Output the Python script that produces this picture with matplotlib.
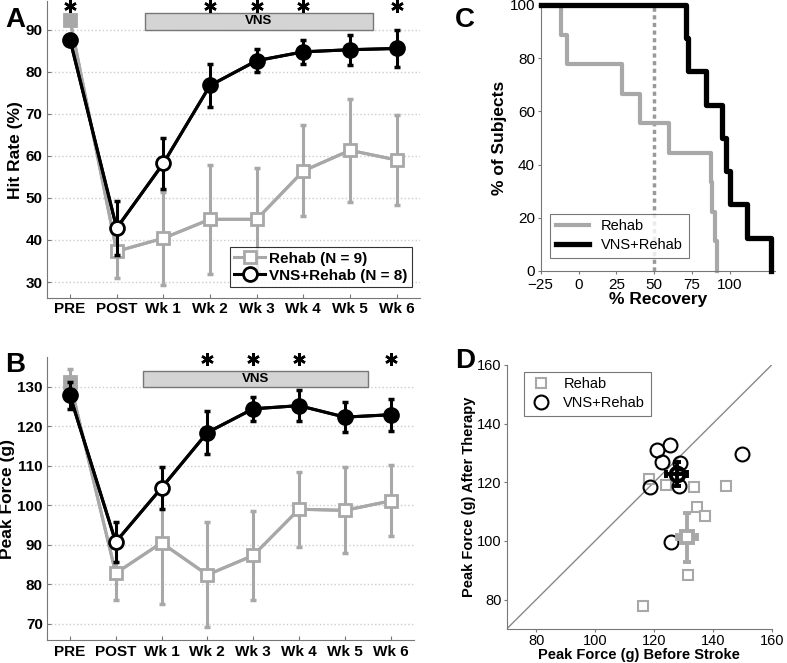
import numpy as np
import matplotlib
matplotlib.use('Agg')
import matplotlib.pyplot as plt

plt.rcParams['font.family'] = ['Liberation Sans', 'DejaVu Sans']

#### data
timepoints = ['PRE', 'POST', 'Wk 1', 'Wk 2', 'Wk 3', 'Wk 4', 'Wk 5', 'Wk 6']

## panel A - hit rate (%)
hit_rehab = [92.3, 37.3, 40.4, 44.9, 44.9, 56.4, 61.3, 59.0]
hit_rehab_err = [0.8, 6.3, 11.1, 13.0, 12.3, 10.8, 12.3, 10.8]
hit_vns = [87.6, 42.8, 58.2, 76.7, 82.6, 84.7, 85.2, 85.5]
hit_vns_err = [0.8, 6.4, 6.1, 5.1, 2.8, 2.8, 3.6, 4.3]
hit_signif = [1, 4, 5, 6, 8]

## panel B - peak force (g)
force_rehab = [131.2, 82.8, 90.5, 82.4, 87.3, 99.0, 98.7, 101.1]
force_rehab_err = [3.3, 6.7, 15.5, 13.3, 11.3, 9.5, 10.9, 9.0]
force_vns = [127.8, 90.7, 104.4, 118.4, 124.4, 125.2, 122.3, 122.9]
force_vns_err = [3.4, 5.0, 5.4, 5.4, 3.1, 3.9, 3.8, 4.1]
force_signif = [4, 5, 6, 8]

## panel C - % recovery per subject (sorted)
recovery_rehab = [-11.8, -7.8, 28.5, 40.6, 59.7, 87.2, 88.3, 90.1, 91.6]
recovery_vns = [70.7, 72.5, 84.2, 94.5, 97.4, 100.0, 111.0, 127.1]

## panel D - peak force before stroke vs after therapy
before_rehab = [118.4, 124.0, 133.6, 144.5, 134.5, 137.5, 131.5, 116.3]
after_rehab = [121.3, 119.1, 118.4, 118.8, 111.5, 108.6, 88.5, 77.7]
before_vns = [120.9, 125.6, 122.8, 129.0, 118.8, 128.6, 125.8, 150.0]
after_vns = [131.1, 132.7, 126.8, 126.5, 118.4, 118.6, 99.7, 129.7]
mean_rehab = (131.1, 101.3)
mean_rehab_err = (3.4, 8.4)
mean_vns = (127.7, 122.9)
mean_vns_err = (3.5, 4.1)

GRAY = '#a8a8a8'
x = np.arange(1, len(timepoints) + 1)


#### FUNCTION: one time-course panel (A or B)
def timeCourse(ax, rehab, rehab_err, vns, vns_err, signif, ylim, yticks,
               ylabel, bar_y, star_y):
  ax.errorbar(x, rehab, yerr=rehab_err, color=GRAY, lw=2.2, capsize=2.5,
              capthick=2.5, elinewidth=2.2, zorder=2)
  ax.plot(x, rehab, color=GRAY, lw=2.2, marker='s', ms=8.5, mfc='white',
          mec=GRAY, mew=2, zorder=3, label='Rehab (N = 9)')
  ax.plot(x[:1], rehab[:1], ls='none', marker='s', ms=8.5, mfc=GRAY, mec=GRAY,
          zorder=3)

  ax.errorbar(x, vns, yerr=vns_err, color='black', lw=2.2, capsize=2.5,
              capthick=2.5, elinewidth=2.2, zorder=4)
  ax.plot(x, vns, color='black', lw=2.2, marker='o', ms=10, mfc='white',
          mec='black', mew=2, zorder=5, label='VNS+Rehab (N = 8)')
  filled = [i for i in range(len(x)) if i not in (1, 2)]
  ax.plot(x[filled], np.array(vns)[filled], ls='none', marker='o', ms=10,
          mfc='black', mec='black', zorder=5)

  ## significance asterisks
  ax.plot(signif, [star_y] * len(signif), ls='none', marker=(6, 2, 0), ms=9,
          mew=1.8, color='black', clip_on=False, zorder=6)

  ## VNS bar
  ax.fill_between([2.6, 7.5], bar_y[0], bar_y[1], facecolor='#d4d4d4',
                  edgecolor='#777777', lw=1, zorder=1)
  ax.text(5.05, (bar_y[0] + bar_y[1]) / 2, 'VNS', ha='center', va='center',
          fontsize=9.5, fontweight='bold')

  ax.set_xlim(0.5, 8.5)
  ax.set_ylim(*ylim)
  ax.set_yticks(yticks)
  ax.set_xticks(x)
  ax.set_xticklabels(timepoints)
  for lab in ax.get_xticklabels() + ax.get_yticklabels():
    lab.set_fontweight('bold')
    lab.set_fontsize(11)
  ax.yaxis.grid(True, ls=':', color='#cccccc', lw=1)
  ax.set_axisbelow(True)
  for s in ['top', 'right']:
    ax.spines[s].set_visible(False)
  for s in ['left', 'bottom']:
    ax.spines[s].set_color('#777777')
  ax.tick_params(direction='in', length=3, color='#777777', pad=3)
  ax.set_ylabel(ylabel, fontsize=12.5, fontweight='bold', labelpad=2)


fig = plt.figure(figsize=(7.87, 6.63), dpi=100)

## A
axA = fig.add_axes([0.0593, 0.5505, 0.4744, 0.4475])
timeCourse(axA, hit_rehab, hit_rehab_err, hit_vns, hit_vns_err, hit_signif,
           (26.2, 96.7), range(30, 91, 10), 'Hit Rate (%)', (90, 94), 95.6)
legA = axA.legend(loc='lower right', bbox_to_anchor=(1.0, 0.01), frameon=True,
                  fancybox=False, edgecolor='black', handlelength=2.0,
                  borderpad=0.3, labelspacing=0.2, handletextpad=0.3,
                  prop={'weight': 'bold', 'size': 11})
legA.get_frame().set_linewidth(0.8)

## B
axB = fig.add_axes([0.0597, 0.034, 0.4658, 0.4275])
timeCourse(axB, force_rehab, force_rehab_err, force_vns, force_vns_err,
           force_signif, (65.8, 137.5), range(70, 131, 10), 'Peak Force (g)',
           (130, 133.9), 136.9)

## C
axC = fig.add_axes([0.687, 0.5913, 0.2982, 0.4012])
y_rehab = [100 * (1 - i / len(recovery_rehab)) for i in range(len(recovery_rehab) + 1)]
y_vns = [100 * (1 - i / len(recovery_vns)) for i in range(len(recovery_vns) + 1)]
axC.axvline(50, color='#999999', ls=(0, (1.2, 1.0)), lw=2.5, zorder=1)
axC.step([-25] + recovery_rehab, y_rehab, where='post', color=GRAY, lw=3,
         label='Rehab', zorder=2, clip_on=False)
axC.step([-25] + recovery_vns, y_vns, where='post', color='black', lw=3.8,
         label='VNS+Rehab', zorder=3, clip_on=False)
axC.set_xlim(-25, 130)
axC.set_ylim(0, 100)
axC.set_xticks([-25, 0, 25, 50, 75, 100])
axC.set_yticks(range(0, 101, 20))
axC.tick_params(labelsize=11, length=2, color='#777777', pad=2)
axC.tick_params(axis='x', pad=3)
for s in ['top', 'right']:
  axC.spines[s].set_visible(False)
for s in ['left', 'bottom']:
  axC.spines[s].set_color('#777777')
axC.set_xlabel('% Recovery', fontsize=12.5, fontweight='bold', labelpad=0)
axC.set_ylabel('% of Subjects', fontsize=12.5, fontweight='bold', labelpad=2)
legC = axC.legend(loc='lower left', bbox_to_anchor=(0.04, 0.05),
                  borderaxespad=0, fancybox=False, edgecolor='#555555',
                  handlelength=2.3, fontsize=10.5, labelspacing=0.3)
legC.get_frame().set_linewidth(0.8)

## D
axD = fig.add_axes([0.6438, 0.0513, 0.3367, 0.3982])
axD.plot([70, 160], [70, 160], color='#888888', lw=1, zorder=1)
axD.plot(before_rehab, after_rehab, ls='none', marker='s', ms=7.5,
         mfc='white', mec=GRAY, mew=1.5, label='Rehab', zorder=2)
axD.plot(before_vns, after_vns, ls='none', marker='o', ms=10, mfc='none',
         mec='black', mew=1.5, label='VNS+Rehab', zorder=3)
axD.errorbar([mean_rehab[0]], [mean_rehab[1]], xerr=[mean_rehab_err[0]],
             yerr=[mean_rehab_err[1]], color=GRAY, lw=2.8, capsize=3,
             capthick=2.8, marker='s', ms=8, mfc='white', mec=GRAY, mew=2.8,
             zorder=4)
axD.errorbar([mean_vns[0]], [mean_vns[1]], xerr=[mean_vns_err[0]],
             yerr=[mean_vns_err[1]], color='black', lw=2.8, capsize=3,
             capthick=2.8, marker='o', ms=10, mfc='none', mec='black', mew=2.8,
             zorder=5)
axD.set_xlim(70, 160)
axD.set_ylim(70, 160)
axD.set_xticks(range(80, 161, 20))
axD.set_yticks(range(80, 161, 20))
axD.tick_params(labelsize=10.5, length=2, color='#777777', pad=1.5)
for s in ['top', 'right']:
  axD.spines[s].set_visible(False)
for s in ['left', 'bottom']:
  axD.spines[s].set_color('#777777')
axD.set_xlabel('Peak Force (g) Before Stroke', fontsize=10.5, fontweight='bold',
               labelpad=0)
axD.set_ylabel('Peak Force (g) After Therapy', fontsize=10.5, fontweight='bold',
               labelpad=1)
legD = axD.legend(loc='upper left', bbox_to_anchor=(0.065, 0.975),
                  borderaxespad=0, fancybox=False, edgecolor='#555555',
                  handlelength=1.5, fontsize=10.5, labelspacing=0.3)
legD.get_frame().set_linewidth(0.8)

## panel letters
fig.text(0.007, 0.97, 'A', fontsize=20, fontweight='bold', va='center')
fig.text(0.007, 0.45, 'B', fontsize=20, fontweight='bold', va='center')
fig.text(0.578, 0.97, 'C', fontsize=20, fontweight='bold', va='center')
fig.text(0.578, 0.455, 'D', fontsize=20, fontweight='bold', va='center')

fig.savefig('out.png', dpi=100)
